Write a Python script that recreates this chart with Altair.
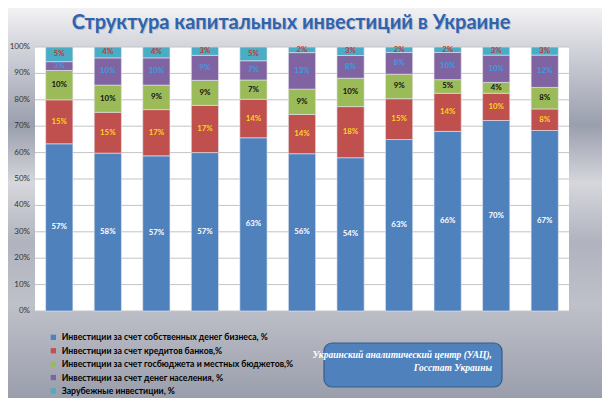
import altair as alt
import pandas as pd

years = ["2005", "2006", "2007", "2008", "2009", "2010", "2011", "2012", "2013", "2014", "2015"]
series_names = [
    "Инвестиции за счет собственных денег бизнеса, %",
    "Инвестиции за счет кредитов банков,%",
    "Инвестиции за счет госбюджета и местных бюджетов,%",
    "Инвестиции за счет денег населения, %",
    "Зарубежные инвестиции, %",
]
own = [57, 58, 57, 57, 63, 56, 54, 63, 66, 70, 67]
bank = [15, 15, 17, 17, 14, 14, 18, 15, 14, 10, 8]
budget = [10, 10, 9, 9, 7, 9, 10, 9, 5, 4, 8]
population = [3, 10, 10, 9, 7, 13, 8, 8, 10, 10, 12]
foreign = [5, 4, 4, 3, 5, 2, 3, 2, 2, 3, 3]
tick_values = [0.0, 0.1, 0.2, 0.3, 0.4, 0.5, 0.6, 0.7, 0.8, 0.9, 1.0]
title_text = "Структура капитальных инвестиций в Украине"
source_line1 = "Украинский аналитический центр (УАЦ),"
source_line2 = "Госстат Украины"

rows = []
for i, (name, vals) in enumerate(zip(series_names, [own, bank, budget, population, foreign])):
    for y, v in zip(years, vals):
        rows.append({"year": y, "series": name, "idx": i, "value": v})
df = pd.DataFrame(rows)

bar_colors = ["#4F81BD", "#C0504D", "#9BBB59", "#8064A2", "#4BACC6"]
text_colors = ["#FFFFFF", "#FFD320", "#111111", "#3D9BE3", "#C0392B"]

W, H = 534, 264
PL, PT, PR, PB = 27, 39, 33, 87

one = pd.DataFrame({"k": [0]})

bg = alt.Chart(one).mark_rect(
    fill=alt.Gradient(
        gradient="linear", x1=0, y1=0, x2=0, y2=1,
        stops=[
            alt.GradientStop(offset=0.0, color="#F2F2F4"),
            alt.GradientStop(offset=0.08, color="#D9DAE0"),
            alt.GradientStop(offset=0.30, color="#9A9FAE"),
            alt.GradientStop(offset=0.45, color="#D6D7DC"),
            alt.GradientStop(offset=0.60, color="#B0B3BE"),
            alt.GradientStop(offset=0.76, color="#BFC1C9"),
            alt.GradientStop(offset=1.0, color="#9A9EAC"),
        ],
    )
).encode(x=alt.value(-PL), x2=alt.value(W + PR), y=alt.value(-PT), y2=alt.value(H + PB))

white = alt.Chart(one).mark_rect(fill="white").encode(
    x=alt.value(0), x2=alt.value(W), y=alt.value(0), y2=alt.value(H)
)

yscale = alt.Scale(domain=[0, 1], nice=False)

tdf_ticks = pd.DataFrame({"t": tick_values})
grid = alt.Chart(tdf_ticks).mark_rule(color="#C4C4C4", strokeWidth=1).encode(
    y=alt.Y("t:Q", scale=yscale, axis=None),
)
ylabels = alt.Chart(tdf_ticks).transform_calculate(
    lab="format(datum.t, '.0%')"
).mark_text(font="Lato", fontSize=8, color="#333333", align="right", baseline="middle").encode(
    x=alt.value(-5),
    y=alt.Y("t:Q", scale=yscale, axis=None),
    text="lab:N",
)

base = (
    alt.Chart(df)
    .transform_joinaggregate(total="sum(value)", groupby=["year"])
    .transform_calculate(frac="datum.value / datum.total")
    .transform_stack(stack="frac", groupby=["year"], as_=["y0", "y1"],
                     sort=[alt.SortField("idx", order="ascending")])
    .transform_calculate(mid="(datum.y0 + datum.y1) / 2", label="datum.value + '%'")
)

xenc = alt.X("year:O", scale=alt.Scale(paddingInner=0.44, paddingOuter=0.22),
             axis=alt.Axis(title=None, labelAngle=0, labelFontStyle="italic", labelFontWeight="bold",
                           labelColor="#1F3864", labelFontSize=8.5, ticks=False, domain=False,
                           labelPadding=7, labelFont="Lato"))

bars = base.mark_bar(stroke="#E4E4EC", strokeWidth=0.6).encode(
    x=xenc,
    y=alt.Y("y0:Q", scale=yscale, axis=None),
    y2="y1:Q",
    color=alt.Color("series:N", scale=alt.Scale(domain=series_names, range=bar_colors),
                    legend=alt.Legend(title=None, orient="none", legendX=14, legendY=286,
                                      symbolType="square", symbolSize=28, symbolStrokeWidth=0,
                                      labelFont="Lato", labelFontWeight="bold", labelFontSize=8.7,
                                      labelColor="black", labelLimit=400, rowPadding=3.4)),
)

labels = base.mark_text(fontSize=7.8, fontWeight="bold", font="Lato").encode(
    x=alt.X("year:O"),
    y=alt.Y("mid:Q", scale=yscale, axis=None),
    text="label:N",
    color=alt.Color("series:N", scale=alt.Scale(domain=series_names, range=text_colors), legend=None),
)

box = alt.Chart(one).mark_rect(cornerRadius=8, fill="#4F81BD", stroke="#385D8A", strokeWidth=1.2).encode(
    x=alt.value(289), x2=alt.value(467), y=alt.value(296), y2=alt.value(340)
)

sdf = pd.DataFrame({"a": [source_line1], "b": [source_line2]})
src_style = dict(font="'Liberation Serif', 'DejaVu Serif', serif", fontStyle="italic", fontWeight="bold",
                 fontSize=9.5, color="white", align="right", baseline="middle")
src1 = alt.Chart(sdf).mark_text(**src_style).encode(x=alt.value(457), y=alt.value(308), text="a:N")
src2 = alt.Chart(sdf).mark_text(**src_style).encode(x=alt.value(457), y=alt.value(321), text="b:N")

tdf = pd.DataFrame({"t": [title_text]})
title_shadow = alt.Chart(tdf).mark_text(
    font="Lato", fontWeight="bold", fontSize=20, color="#9AA0B0", opacity=0.6, align="center", baseline="middle"
).encode(x=alt.value(257), y=alt.value(-23), text="t:N")
title = alt.Chart(tdf).mark_text(
    font="Lato", fontWeight="bold", fontSize=20, color="#2E63AE", align="center", baseline="middle"
).encode(x=alt.value(256), y=alt.value(-24), text="t:N")

chart = (
    alt.layer(bg, white, grid, ylabels, bars, labels, box, src1, src2, title_shadow, title)
    .resolve_scale(color="independent")
    .properties(width=W, height=H, padding={"left": PL, "top": PT, "right": PR, "bottom": PB},
                autosize=alt.AutoSizeParams(type="none"))
    .configure_view(stroke=None)
    .configure(background="#C0C2CA")
)

chart.save("out.html", embed_options={"renderer": "svg", "actions": False})
